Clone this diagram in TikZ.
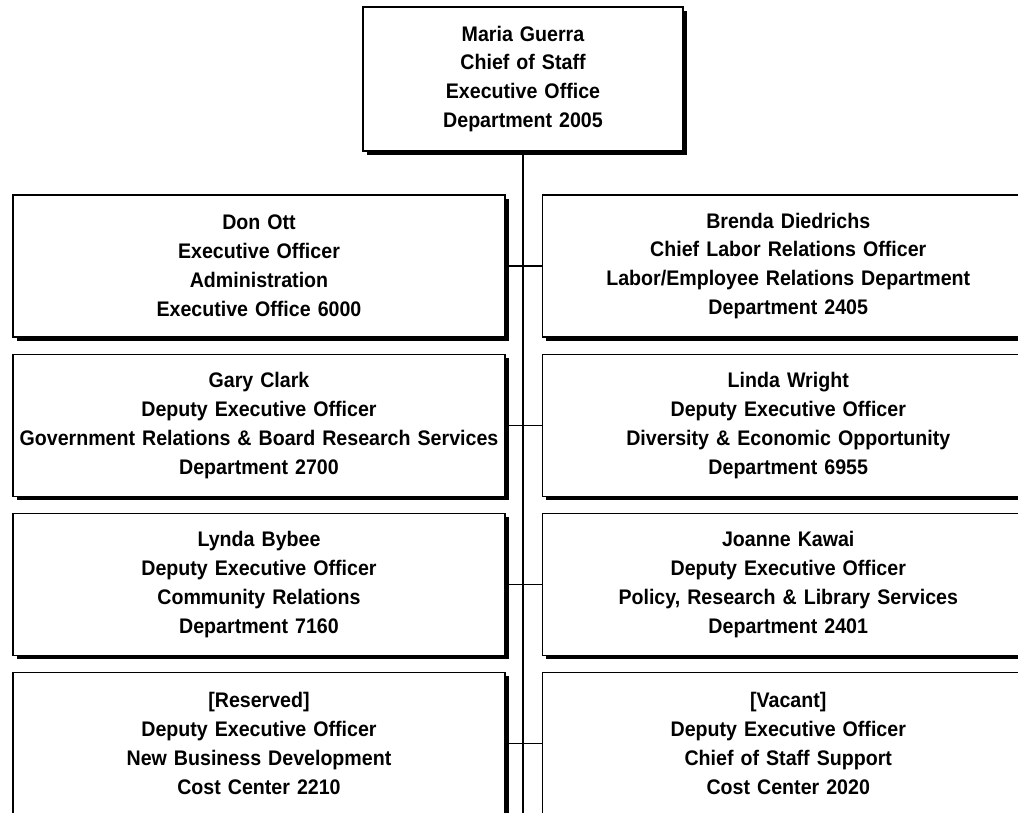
\documentclass[tikz,border=0pt]{standalone}
\usepackage{fontspec}
\setmainfont{Liberation Sans}[FakeStretch=0.93]
\usetikzlibrary{positioning}
\usetikzlibrary{shadows}

\begin{document}
\begin{tikzpicture}[node distance=0.4cm, auto,
    box/.style={draw, line width=0.9pt, fill=white, text width=12.3cm, inner sep=0pt,
      minimum height=3.55cm, align=center, font=\fontsize{15}{20.6}\selectfont\bfseries,
      drop shadow={shadow xshift=0.09cm, shadow yshift=-0.09cm, fill=black, opacity=1}},
    link/.style={draw, line width=0.9pt}]
  \useasboundingbox (0,0) rectangle (25.45,-20.325);
  \clip (0,0) rectangle (25.45,-20.325);
  % Chief of staff
  \node[box, text width=8cm, minimum height=3.6cm] (guerra) at (13.075,-1.975) {Maria Guerra\\Chief of Staff\\Executive Office\\Department 2005};
  % Left column
  \node[box] (ott) at (6.475,-6.65) {Don Ott\\Executive Officer\\Administration\\Executive Office 6000};
  \node[box, below=of ott] (clark) {Gary Clark\\Deputy Executive Officer\\Government Relations \& Board Research Services\\Department 2700};
  \node[box, below=of clark] (bybee) {Lynda Bybee\\Deputy Executive Officer\\Community Relations\\Department 7160};
  \node[box, below=of bybee] (reserved) {[Reserved]\\Deputy Executive Officer\\New Business Development\\Cost Center 2210};
  % Right column
  \node[box, right=0.9cm of ott] (diedrichs) {Brenda Diedrichs\\Chief Labor Relations Officer\\Labor/Employee Relations Department\\Department 2405};
  \node[box, right=0.9cm of clark] (wright) {Linda Wright\\Deputy Executive Officer\\Diversity \& Economic Opportunity\\Department 6955};
  \node[box, right=0.9cm of bybee] (kawai) {Joanne Kawai\\Deputy Executive Officer\\Policy, Research \& Library Services\\Department 2401};
  \node[box, right=0.9cm of reserved] (vacant) {[Vacant]\\Deputy Executive Officer\\Chief of Staff Support\\Cost Center 2020};
  \coordinate (trunkend) at (13.075,-20.5);
  % Lines
  \draw[link] (guerra.south) -- (trunkend);
  \draw[link] (ott.east) -- (diedrichs.west);
  \draw[link] (clark.east) -- (wright.west);
  \draw[link] (bybee.east) -- (kawai.west);
  \draw[link] (reserved.east) -- (vacant.west);
\end{tikzpicture}
\end{document}
